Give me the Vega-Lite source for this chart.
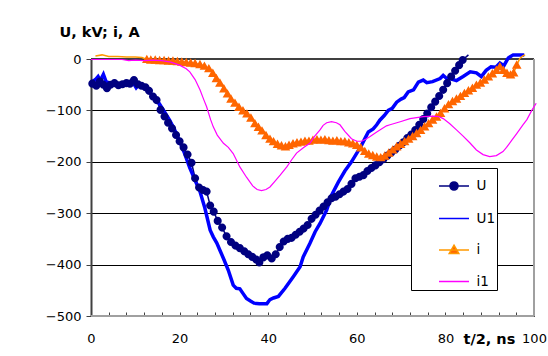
{
  "$schema": "https://vega.github.io/schema/vega-lite/v6.json",
  "width": 443,
  "height": 257,
  "autosize": {"type": "none"},
  "padding": {"left": 91, "top": 59, "right": 14, "bottom": 40},
  "background": "white",
  "config": {
    "font": "DejaVu Sans",
    "view": {"stroke": null},
    "axis": {"labelColor": "#000", "titleColor": "#000", "labelFontSize": 13}
  },
  "datasets": {
    "d": [
      {"s":"U","x":0.3,"y":-48},{"s":"U","x":1.2,"y":-52},{"s":"U","x":2.0,"y":-44},{"s":"U","x":2.8,"y":-50},{"s":"U","x":3.6,"y":-57},{"s":"U","x":4.4,"y":-50},{"s":"U","x":5.3,"y":-47},{"s":"U","x":6.2,"y":-51},{"s":"U","x":7.1,"y":-49},{"s":"U","x":8.0,"y":-47},{"s":"U","x":8.8,"y":-48},{"s":"U","x":9.7,"y":-41},{"s":"U","x":10.6,"y":-49},{"s":"U","x":11.4,"y":-52},{"s":"U","x":12.3,"y":-55},{"s":"U","x":13.1,"y":-62},{"s":"U","x":14.0,"y":-73},{"s":"U","x":14.8,"y":-80},{"s":"U","x":15.7,"y":-99},{"s":"U","x":16.6,"y":-112},{"s":"U","x":17.4,"y":-124},{"s":"U","x":18.3,"y":-135},{"s":"U","x":19.2,"y":-148},{"s":"U","x":20.0,"y":-160},{"s":"U","x":20.9,"y":-172},{"s":"U","x":21.8,"y":-186},{"s":"U","x":22.7,"y":-202},{"s":"U","x":23.5,"y":-232},{"s":"U","x":24.4,"y":-250},{"s":"U","x":25.3,"y":-255},{"s":"U","x":26.1,"y":-258},{"s":"U","x":26.9,"y":-285},{"s":"U","x":27.7,"y":-297},{"s":"U","x":28.6,"y":-315},{"s":"U","x":29.6,"y":-328},{"s":"U","x":30.6,"y":-345},{"s":"U","x":31.6,"y":-356},{"s":"U","x":32.6,"y":-363},{"s":"U","x":33.6,"y":-368},{"s":"U","x":34.6,"y":-374},{"s":"U","x":35.5,"y":-380},{"s":"U","x":36.4,"y":-385},{"s":"U","x":37.3,"y":-390},{"s":"U","x":38.0,"y":-396},{"s":"U","x":38.9,"y":-386},{"s":"U","x":39.8,"y":-382},{"s":"U","x":40.8,"y":-388},{"s":"U","x":41.7,"y":-380},{"s":"U","x":42.6,"y":-366},{"s":"U","x":43.5,"y":-355},{"s":"U","x":44.4,"y":-350},{"s":"U","x":45.3,"y":-348},{"s":"U","x":46.2,"y":-342},{"s":"U","x":47.1,"y":-336},{"s":"U","x":48.0,"y":-330},{"s":"U","x":48.9,"y":-323},{"s":"U","x":49.8,"y":-311},{"s":"U","x":50.7,"y":-303},{"s":"U","x":51.6,"y":-295},{"s":"U","x":52.5,"y":-287},{"s":"U","x":53.4,"y":-279},{"s":"U","x":54.3,"y":-271},{"s":"U","x":55.2,"y":-268},{"s":"U","x":56.1,"y":-263},{"s":"U","x":57.0,"y":-258},{"s":"U","x":57.9,"y":-253},{"s":"U","x":58.8,"y":-243},{"s":"U","x":59.7,"y":-232},{"s":"U","x":60.6,"y":-229},{"s":"U","x":61.5,"y":-226},{"s":"U","x":62.4,"y":-218},{"s":"U","x":63.3,"y":-212},{"s":"U","x":64.2,"y":-207},{"s":"U","x":65.1,"y":-201},{"s":"U","x":66.0,"y":-195},{"s":"U","x":66.9,"y":-188},{"s":"U","x":67.8,"y":-182},{"s":"U","x":68.7,"y":-176},{"s":"U","x":69.6,"y":-169},{"s":"U","x":70.5,"y":-162},{"s":"U","x":71.4,"y":-154},{"s":"U","x":72.3,"y":-147},{"s":"U","x":73.2,"y":-138},{"s":"U","x":74.1,"y":-128},{"s":"U","x":75.0,"y":-117},{"s":"U","x":75.9,"y":-106},{"s":"U","x":76.8,"y":-94},{"s":"U","x":77.7,"y":-83},{"s":"U","x":78.6,"y":-72},{"s":"U","x":79.5,"y":-60},{"s":"U","x":80.4,"y":-47},{"s":"U","x":81.3,"y":-34},{"s":"U","x":82.2,"y":-23},{"s":"U","x":83.1,"y":-12},{"s":"U","x":83.9,"y":-2},{"s":"U","x":85.2,"y":8},
      {"s":"U1","x":0.3,"y":-44},{"s":"U1","x":1.0,"y":-40},{"s":"U1","x":1.6,"y":-34},{"s":"U1","x":2.1,"y":-42},{"s":"U1","x":2.8,"y":-30},{"s":"U1","x":3.4,"y":-44},{"s":"U1","x":4.5,"y":-48},{"s":"U1","x":5.5,"y":-50},{"s":"U1","x":6.5,"y":-49},{"s":"U1","x":7.5,"y":-47},{"s":"U1","x":8.5,"y":-48},{"s":"U1","x":9.5,"y":-46},{"s":"U1","x":10.2,"y":-56},{"s":"U1","x":10.8,"y":-50},{"s":"U1","x":11.8,"y":-54},{"s":"U1","x":12.8,"y":-60},{"s":"U1","x":13.6,"y":-68},{"s":"U1","x":14.4,"y":-74},{"s":"U1","x":15.5,"y":-88},{"s":"U1","x":16.6,"y":-103},{"s":"U1","x":17.8,"y":-120},{"s":"U1","x":18.9,"y":-138},{"s":"U1","x":20.0,"y":-160},{"s":"U1","x":21.1,"y":-183},{"s":"U1","x":22.3,"y":-212},{"s":"U1","x":23.5,"y":-236},{"s":"U1","x":24.6,"y":-258},{"s":"U1","x":25.7,"y":-290},{"s":"U1","x":26.9,"y":-333},{"s":"U1","x":27.6,"y":-346},{"s":"U1","x":28.4,"y":-358},{"s":"U1","x":29.1,"y":-372},{"s":"U1","x":30.0,"y":-390},{"s":"U1","x":31.0,"y":-411},{"s":"U1","x":32.1,"y":-440},{"s":"U1","x":32.8,"y":-446},{"s":"U1","x":33.6,"y":-447},{"s":"U1","x":34.3,"y":-456},{"s":"U1","x":35.1,"y":-466},{"s":"U1","x":36.0,"y":-471},{"s":"U1","x":36.8,"y":-475},{"s":"U1","x":38.0,"y":-476},{"s":"U1","x":39.7,"y":-476},{"s":"U1","x":40.4,"y":-468},{"s":"U1","x":41.2,"y":-465},{"s":"U1","x":42.3,"y":-462},{"s":"U1","x":43.8,"y":-446},{"s":"U1","x":45.7,"y":-423},{"s":"U1","x":47.2,"y":-404},{"s":"U1","x":47.9,"y":-385},{"s":"U1","x":49.4,"y":-359},{"s":"U1","x":50.6,"y":-336},{"s":"U1","x":51.7,"y":-320},{"s":"U1","x":53.2,"y":-294},{"s":"U1","x":54.3,"y":-265},{"s":"U1","x":55.8,"y":-240},{"s":"U1","x":57.3,"y":-218},{"s":"U1","x":58.8,"y":-200},{"s":"U1","x":60.0,"y":-183},{"s":"U1","x":61.1,"y":-167},{"s":"U1","x":62.0,"y":-152},{"s":"U1","x":62.6,"y":-142},{"s":"U1","x":63.7,"y":-136},{"s":"U1","x":64.5,"y":-128},{"s":"U1","x":65.2,"y":-119},{"s":"U1","x":66.2,"y":-110},{"s":"U1","x":67.1,"y":-100},{"s":"U1","x":68.0,"y":-96},{"s":"U1","x":69.0,"y":-84},{"s":"U1","x":70.0,"y":-78},{"s":"U1","x":70.7,"y":-75},{"s":"U1","x":71.6,"y":-64},{"s":"U1","x":72.8,"y":-60},{"s":"U1","x":73.9,"y":-45},{"s":"U1","x":75.0,"y":-41},{"s":"U1","x":75.8,"y":-46},{"s":"U1","x":77.1,"y":-44},{"s":"U1","x":78.8,"y":-38},{"s":"U1","x":79.5,"y":-32},{"s":"U1","x":80.3,"y":-38},{"s":"U1","x":81.0,"y":-38},{"s":"U1","x":82.5,"y":-42},{"s":"U1","x":84.0,"y":-34},{"s":"U1","x":85.6,"y":-25},{"s":"U1","x":87.0,"y":-27},{"s":"U1","x":88.1,"y":-34},{"s":"U1","x":89.2,"y":-22},{"s":"U1","x":90.3,"y":-15},{"s":"U1","x":91.4,"y":-16},{"s":"U1","x":92.3,"y":-8},{"s":"U1","x":93.2,"y":-13},{"s":"U1","x":94.2,"y":2},{"s":"U1","x":95.3,"y":8},{"s":"U1","x":97.8,"y":8},
      {"s":"i","x":1.0,"y":6},{"s":"i","x":2.5,"y":8},{"s":"i","x":4.0,"y":5},{"s":"i","x":6.0,"y":5},{"s":"i","x":8.0,"y":4},{"s":"i","x":10.0,"y":4},{"s":"i","x":11.5,"y":3},{"s":"i","x":12.6,"y":-1},{"s":"i","x":13.5,"y":-2},{"s":"i","x":14.5,"y":-2},{"s":"i","x":15.5,"y":-3},{"s":"i","x":16.5,"y":-3},{"s":"i","x":17.5,"y":-4},{"s":"i","x":18.5,"y":-4},{"s":"i","x":19.5,"y":-5},{"s":"i","x":20.5,"y":-6},{"s":"i","x":21.5,"y":-7},{"s":"i","x":22.5,"y":-8},{"s":"i","x":23.5,"y":-9},{"s":"i","x":24.6,"y":-11},{"s":"i","x":25.6,"y":-14},{"s":"i","x":26.6,"y":-19},{"s":"i","x":27.5,"y":-28},{"s":"i","x":28.3,"y":-38},{"s":"i","x":29.1,"y":-47},{"s":"i","x":30.0,"y":-58},{"s":"i","x":30.8,"y":-68},{"s":"i","x":31.6,"y":-78},{"s":"i","x":32.5,"y":-86},{"s":"i","x":33.4,"y":-94},{"s":"i","x":34.3,"y":-101},{"s":"i","x":35.2,"y":-107},{"s":"i","x":36.1,"y":-115},{"s":"i","x":37.0,"y":-126},{"s":"i","x":37.8,"y":-133},{"s":"i","x":38.6,"y":-140},{"s":"i","x":39.5,"y":-149},{"s":"i","x":40.4,"y":-156},{"s":"i","x":41.2,"y":-161},{"s":"i","x":42.1,"y":-166},{"s":"i","x":43.0,"y":-169},{"s":"i","x":43.9,"y":-171},{"s":"i","x":44.7,"y":-168},{"s":"i","x":45.6,"y":-165},{"s":"i","x":46.5,"y":-163},{"s":"i","x":47.4,"y":-162},{"s":"i","x":48.3,"y":-160},{"s":"i","x":49.2,"y":-160},{"s":"i","x":50.1,"y":-158},{"s":"i","x":51.0,"y":-157},{"s":"i","x":51.9,"y":-158},{"s":"i","x":52.8,"y":-157},{"s":"i","x":53.7,"y":-159},{"s":"i","x":54.6,"y":-160},{"s":"i","x":55.5,"y":-159},{"s":"i","x":56.4,"y":-161},{"s":"i","x":57.3,"y":-161},{"s":"i","x":58.2,"y":-163},{"s":"i","x":59.1,"y":-165},{"s":"i","x":60.0,"y":-168},{"s":"i","x":60.9,"y":-173},{"s":"i","x":61.8,"y":-180},{"s":"i","x":62.7,"y":-185},{"s":"i","x":63.6,"y":-188},{"s":"i","x":64.5,"y":-191},{"s":"i","x":65.4,"y":-192},{"s":"i","x":66.3,"y":-189},{"s":"i","x":67.2,"y":-183},{"s":"i","x":68.1,"y":-177},{"s":"i","x":69.0,"y":-171},{"s":"i","x":69.9,"y":-166},{"s":"i","x":70.8,"y":-161},{"s":"i","x":71.7,"y":-156},{"s":"i","x":72.6,"y":-151},{"s":"i","x":73.5,"y":-145},{"s":"i","x":74.4,"y":-139},{"s":"i","x":75.3,"y":-132},{"s":"i","x":76.2,"y":-126},{"s":"i","x":77.1,"y":-119},{"s":"i","x":78.0,"y":-113},{"s":"i","x":78.9,"y":-106},{"s":"i","x":79.8,"y":-97},{"s":"i","x":80.7,"y":-89},{"s":"i","x":81.6,"y":-83},{"s":"i","x":82.5,"y":-78},{"s":"i","x":83.4,"y":-73},{"s":"i","x":84.3,"y":-67},{"s":"i","x":85.2,"y":-62},{"s":"i","x":86.1,"y":-57},{"s":"i","x":87.0,"y":-51},{"s":"i","x":87.9,"y":-47},{"s":"i","x":88.8,"y":-41},{"s":"i","x":89.7,"y":-35},{"s":"i","x":90.6,"y":-29},{"s":"i","x":91.5,"y":-22},{"s":"i","x":92.3,"y":-15},{"s":"i","x":93.1,"y":-22},{"s":"i","x":93.9,"y":-28},{"s":"i","x":94.7,"y":-31},{"s":"i","x":95.4,"y":-27},{"s":"i","x":96.1,"y":-12},{"s":"i","x":96.8,"y":1},{"s":"i","x":97.5,"y":6},{"s":"i","x":98.0,"y":8},
      {"s":"i1","x":0,"y":-1},{"s":"i1","x":4,"y":-1},{"s":"i1","x":7,"y":-1},{"s":"i1","x":8.5,"y":-3},{"s":"i1","x":10,"y":-2},{"s":"i1","x":12,"y":-3},{"s":"i1","x":14,"y":-2},{"s":"i1","x":16,"y":-3},{"s":"i1","x":18,"y":-6},{"s":"i1","x":20,"y":-12},{"s":"i1","x":21.5,"y":-19},{"s":"i1","x":22.3,"y":-25},{"s":"i1","x":23.5,"y":-40},{"s":"i1","x":24.6,"y":-60},{"s":"i1","x":25.5,"y":-80},{"s":"i1","x":26.1,"y":-93},{"s":"i1","x":27,"y":-118},{"s":"i1","x":27.6,"y":-132},{"s":"i1","x":28.5,"y":-148},{"s":"i1","x":29.9,"y":-164},{"s":"i1","x":31,"y":-172},{"s":"i1","x":32.1,"y":-184},{"s":"i1","x":33.6,"y":-210},{"s":"i1","x":35.1,"y":-230},{"s":"i1","x":36.5,"y":-247},{"s":"i1","x":37.5,"y":-254},{"s":"i1","x":38.5,"y":-256},{"s":"i1","x":39.5,"y":-254},{"s":"i1","x":40.4,"y":-249},{"s":"i1","x":41.5,"y":-238},{"s":"i1","x":42.7,"y":-226},{"s":"i1","x":44.2,"y":-210},{"s":"i1","x":45.3,"y":-196},{"s":"i1","x":46.4,"y":-183},{"s":"i1","x":48,"y":-172},{"s":"i1","x":49.4,"y":-164},{"s":"i1","x":50.5,"y":-150},{"s":"i1","x":51.7,"y":-138},{"s":"i1","x":52.4,"y":-129},{"s":"i1","x":53.2,"y":-124},{"s":"i1","x":54.3,"y":-122},{"s":"i1","x":55.4,"y":-124},{"s":"i1","x":56.2,"y":-128},{"s":"i1","x":57.3,"y":-141},{"s":"i1","x":58.8,"y":-155},{"s":"i1","x":60,"y":-160},{"s":"i1","x":61.1,"y":-160},{"s":"i1","x":62,"y":-156},{"s":"i1","x":63,"y":-151},{"s":"i1","x":64.5,"y":-142},{"s":"i1","x":66.7,"y":-130},{"s":"i1","x":67.5,"y":-128},{"s":"i1","x":69.8,"y":-122},{"s":"i1","x":72,"y":-116},{"s":"i1","x":75,"y":-112},{"s":"i1","x":77.3,"y":-111},{"s":"i1","x":78.5,"y":-112},{"s":"i1","x":79.5,"y":-116},{"s":"i1","x":81,"y":-126},{"s":"i1","x":82.5,"y":-138},{"s":"i1","x":84,"y":-150},{"s":"i1","x":85.5,"y":-163},{"s":"i1","x":87,"y":-177},{"s":"i1","x":88.5,"y":-186},{"s":"i1","x":90,"y":-190},{"s":"i1","x":91.5,"y":-188},{"s":"i1","x":93,"y":-180},{"s":"i1","x":93.8,"y":-172},{"s":"i1","x":95,"y":-158},{"s":"i1","x":96.1,"y":-145},{"s":"i1","x":97.5,"y":-128},{"s":"i1","x":98.4,"y":-118},{"s":"i1","x":99.5,"y":-100},{"s":"i1","x":100.5,"y":-86}
    ]
  },
  "data": {"name": "d"},
  "resolve": {"axis": {"x": "independent", "y": "independent"}},
  "layer": [
    {
      "data": {"values": [{}]},
      "mark": {"type": "rule", "color": "#404040", "strokeWidth": 2},
      "encoding": {
        "y": {"datum": 0, "type": "quantitative", "axis": null},
        "x": {"datum": 0, "type": "quantitative", "axis": null},
        "x2": {"datum": 100}
      }
    },
    {
      "data": {"values": [{}]},
      "mark": {"type": "rule", "color": "#a0a0a0", "strokeWidth": 2},
      "encoding": {
        "y": {"datum": -500, "type": "quantitative", "axis": null},
        "x": {"datum": 0, "type": "quantitative", "axis": null},
        "x2": {"datum": 100}
      }
    },
    {
      "data": {"values": [{}]},
      "mark": {"type": "rule", "color": "#a0a0a0", "strokeWidth": 2},
      "encoding": {
        "x": {"datum": 100, "type": "quantitative", "axis": null},
        "y": {"datum": 0, "type": "quantitative", "axis": null},
        "y2": {"datum": -500}
      }
    },
    {
      "transform": [{"filter": "datum.s === 'U'"}],
      "mark": {"type": "line", "clip": false, "strokeWidth": 1.5},
      "encoding": {
        "x": {"field": "x", "type": "quantitative",
          "scale": {"domain": [0, 100], "nice": false, "zero": false},
          "axis": {"orient": "bottom", "values": [0,4,8,12,16,20,24,28,32,36,40,44,48,52,56,60,64,68,72,76,80,84,88,92,96,100],
            "labelExpr": "datum.value % 20 === 0 ? datum.label : ''",
            "domain": false, "ticks": false, "tickSize": 0,
            "grid": true, "gridColor": "#404040", "gridWidth": 1, "gridOpacity": 1, "gridDash": [4, 253], "gridDashOffset": 4,
            "labelPadding": 26, "labelBaseline": "alphabetic", "labelFlush": false, "labelOverlap": false, "labelFontSize": 13,
            "title": "t/2, ns", "titleX": 372, "titleY": 27, "titleAlign": "left", "titleAnchor": null, "titleBaseline": "alphabetic",
            "titleFontWeight": "bold", "titleFontSize": 14.5}},
        "y": {"field": "y", "type": "quantitative",
          "scale": {"domain": [-500, 0], "nice": false, "zero": false},
          "axis": {"values": [-500, -400, -300, -200, -100, 0], "grid": true, "gridColor": "#000", "gridWidth": 1, "gridOpacity": 1,
            "domainColor": "#404040", "domainWidth": 2, "tickColor": "#404040", "tickSize": 5, "tickWidth": 1, "labelPadding": 5,
            "labelFontSize": 13, "labelOverlap": false,
            "title": "U, kV; i, A", "titleAngle": 0, "titleX": -32, "titleY": -23, "titleAlign": "left", "titleAnchor": null,
            "titleBaseline": "alphabetic", "titleFontWeight": "bold", "titleFontSize": 14.5}},
        "color": {"datum": "U", "type": "nominal",
          "scale": {"domain": ["U", "U1", "i", "i1"], "range": ["#000080", "#0000ff", "#ff9900", "#ff00ff"]},
          "legend": {"orient": "none", "legendX": 320, "legendY": 109, "title": null, "padding": 2, "rowPadding": 8.5,
            "symbolOffset": 25, "labelOffset": 6.5, "labelFontSize": 13.5, "labelColor": "#000",
            "strokeColor": "#000", "fillColor": "#fff", "symbolSize": 900, "symbolStrokeWidth": 1.5}},
        "order": {"field": "x", "type": "quantitative"}
      }
    },
    {
      "transform": [{"filter": "datum.s === 'U1'"}],
      "mark": {"type": "line", "clip": false, "strokeWidth": 3.5},
      "encoding": {
        "x": {"field": "x", "type": "quantitative", "axis": null},
        "y": {"field": "y", "type": "quantitative", "axis": null},
        "color": {"datum": "U1", "type": "nominal"},
        "order": {"field": "x", "type": "quantitative"}
      }
    },
    {
      "transform": [{"filter": "datum.s === 'i'"}],
      "mark": {"type": "line", "clip": false, "strokeWidth": 1.5},
      "encoding": {
        "x": {"field": "x", "type": "quantitative", "axis": null},
        "y": {"field": "y", "type": "quantitative", "axis": null},
        "color": {"datum": "i", "type": "nominal"},
        "order": {"field": "x", "type": "quantitative"}
      }
    },
    {
      "transform": [{"filter": "(datum.s === 'U' || datum.s === 'i') && datum.y <= 0"}],
      "mark": {"type": "point", "filled": true, "opacity": 1, "size": 900, "clip": false},
      "encoding": {
        "x": {"field": "x", "type": "quantitative", "axis": null},
        "y": {"field": "y", "type": "quantitative", "axis": null},
        "fill": {"field": "s", "type": "nominal",
          "scale": {"domain": ["U", "U1", "i", "i1"], "range": ["#000080", "#0000ff", "#ff6600", "#ff00ff"]},
          "legend": {"orient": "none", "legendX": 320, "legendY": 109, "title": null, "padding": 2, "rowPadding": 8.5,
            "symbolOffset": 25, "labelOffset": 6.5, "labelFontSize": 13.5, "labelColor": "#000",
            "strokeColor": "#000", "fillColor": "#fff", "symbolSize": 900, "symbolStrokeWidth": 1.5}},
        "shape": {"field": "s", "type": "nominal",
          "scale": {"domain": ["U", "U1", "i", "i1"], "range": [
            "M-1,0H1M-0.27,0A0.27,0.27 0 1,1 0.27,0A0.27,0.27 0 1,1 -0.27,0Z",
            "M-1,0H1",
            "M-1,0H1M0,-0.32L0.32,0.24L-0.32,0.24Z",
            "M-1,0H1"]},
          "legend": {"orient": "none", "legendX": 320, "legendY": 109, "title": null, "padding": 2, "rowPadding": 8.5,
            "symbolOffset": 25, "labelOffset": 6.5, "labelFontSize": 13.5, "labelColor": "#000",
            "strokeColor": "#000", "fillColor": "#fff", "symbolSize": 900, "symbolStrokeWidth": 1.5}}
      }
    },
    {
      "transform": [{"filter": "datum.s === 'i1'"}],
      "mark": {"type": "line", "clip": false, "strokeWidth": 1.2},
      "encoding": {
        "x": {"field": "x", "type": "quantitative", "axis": null},
        "y": {"field": "y", "type": "quantitative", "axis": null},
        "color": {"datum": "i1", "type": "nominal"},
        "order": {"field": "x", "type": "quantitative"}
      }
    }
  ]
}
